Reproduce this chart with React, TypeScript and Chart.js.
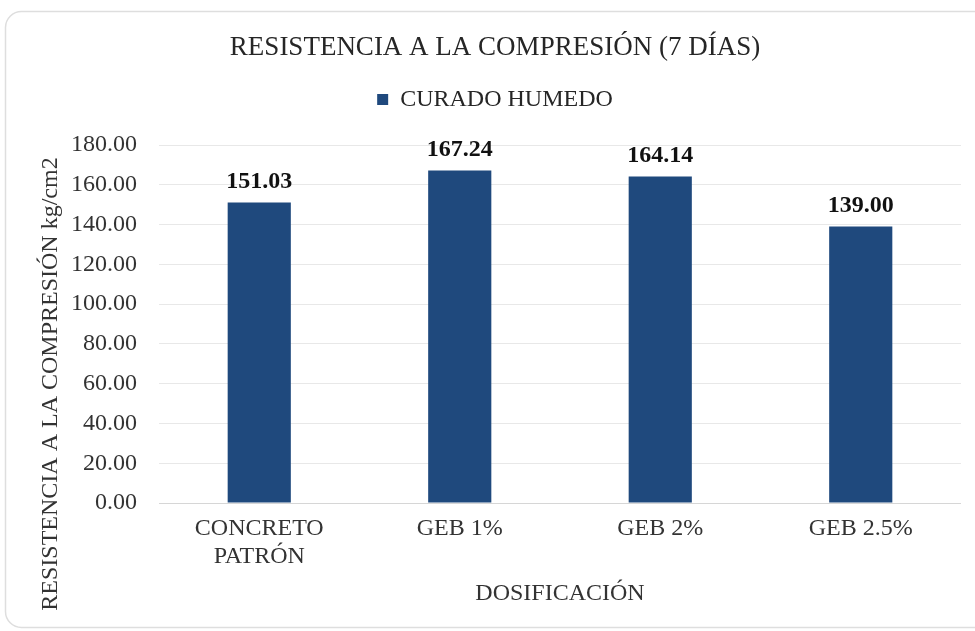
import React, { useEffect, useRef } from "react";
import { Chart, registerables } from "chart.js";

Chart.register(...registerables);

const chartTitle = "RESISTENCIA A LA COMPRESIÓN (7 DÍAS)";
const seriesName = "CURADO HUMEDO";
const categories: (string | string[])[] = [["CONCRETO", "PATRÓN"], "GEB 1%", "GEB 2%", "GEB 2.5%"];
const values = [151.03, 167.24, 164.14, 139.0];
const yMin = 0;
const yMax = 180;
const yStep = 20;
const yTitle = "RESISTENCIA A LA COMPRESIÓN kg/cm2";
const xTitle = "DOSIFICACIÓN";

const FONT = "'Liberation Serif', 'Times New Roman', serif";
const BAR = "#1f497d";

export default function App() {
  const ref = useRef<HTMLCanvasElement | null>(null);

  useEffect(() => {
    document.body.style.margin = "0";
    const canvas = ref.current;
    if (!canvas) return;

    const framePlugin = {
      id: "frame",
      beforeLayout(chart: any) {
        const lg = chart.legend;
        if (lg && !lg._patched) {
          const f = lg.fit;
          lg.fit = function () {
            f.call(this);
            this.height += 23.6;
          };
          lg._patched = true;
        }
      },
      beforeDraw(chart: any) {
        const ctx = chart.ctx;
        ctx.save();
        ctx.fillStyle = "#ffffff";
        ctx.fillRect(0, 0, chart.width, chart.height);
        ctx.strokeStyle = "#dedede";
        ctx.lineWidth = 1.5;
        ctx.beginPath();
        (ctx as any).roundRect(5.5, 11.5, 985, 616, 16);
        ctx.stroke();
        ctx.restore();
      },
      afterDraw(chart: any) {
        const ctx = chart.ctx;
        ctx.save();
        ctx.translate(51, 384);
        ctx.rotate(-Math.PI / 2);
        ctx.font = `24px ${FONT}`;
        ctx.fillStyle = "#333333";
        ctx.textAlign = "center";
        ctx.textBaseline = "middle";
        ctx.fillText(yTitle, 0, 0);
        ctx.restore();
      },
      afterDatasetsDraw(chart: any) {
        const ctx = chart.ctx;
        const meta = chart.getDatasetMeta(0);
        ctx.save();
        ctx.font = `bold 24px ${FONT}`;
        ctx.fillStyle = "#111111";
        ctx.textAlign = "center";
        ctx.textBaseline = "middle";
        meta.data.forEach((bar: any, i: number) => {
          ctx.fillText(values[i].toFixed(2), bar.x, bar.y - 21);
        });
        ctx.restore();
      },
    };

    const chart = new Chart(canvas, {
      type: "bar",
      data: {
        labels: categories as any,
        datasets: [
          {
            label: seriesName,
            data: values,
            backgroundColor: BAR,
            borderColor: BAR,
            borderWidth: 0,
            barPercentage: 0.315,
            categoryPercentage: 1,
          },
        ],
      },
      options: {
        animation: false,
        responsive: false,
        maintainAspectRatio: false,
        layout: { padding: { left: 29, right: 14, top: 0, bottom: 0 } },
        plugins: {
          title: {
            display: true,
            text: chartTitle,
            color: "#262626",
            font: { family: FONT, size: 27, weight: "normal", lineHeight: 1.2 },
            padding: { top: 32, bottom: 0 },
          },
          legend: {
            display: true,
            position: "top",
            labels: {
              color: "#262626",
              font: { family: FONT, size: 24, lineHeight: 1.2 },
              boxWidth: 11,
              boxHeight: 11,
              padding: 23,
            },
          },
          tooltip: { enabled: false },
        },
        scales: {
          x: {
            grid: { display: false, drawTicks: false },
            border: { display: false },
            ticks: {
              color: "#333333",
              font: { family: FONT, size: 24, lineHeight: 1.15 },
              padding: 12,
              maxRotation: 0,
              autoSkip: false,
            },
            title: {
              display: true,
              text: xTitle,
              color: "#333333",
              font: { family: FONT, size: 24, lineHeight: 1.2 },
              padding: { top: 0, bottom: 23 },
            },
            afterFit(scale: any) {
              scale.height = 128;
            },
          },
          y: {
            min: yMin,
            max: yMax,
            grid: {
              color: (c: any) => (c.tick && c.tick.value === 0 ? "#d6d6d6" : "#e8e8e8"),
              lineWidth: 1,
              drawTicks: false,
            },
            border: { display: false },
            ticks: {
              stepSize: yStep,
              color: "#333333",
              font: { family: FONT, size: 24 },
              padding: 22,
              callback: (v: any) => Number(v).toFixed(2),
            },
            afterFit(scale: any) {
              scale.width = 159 - 29;
            },
          },
        },
      },
      plugins: [framePlugin],
    });

    return () => chart.destroy();
  }, []);

  return (
    <div style={{ width: 975, height: 631 }}>
      <canvas ref={ref} width={975} height={631} style={{ display: "block", width: 975, height: 631 }} />
    </div>
  );
}
